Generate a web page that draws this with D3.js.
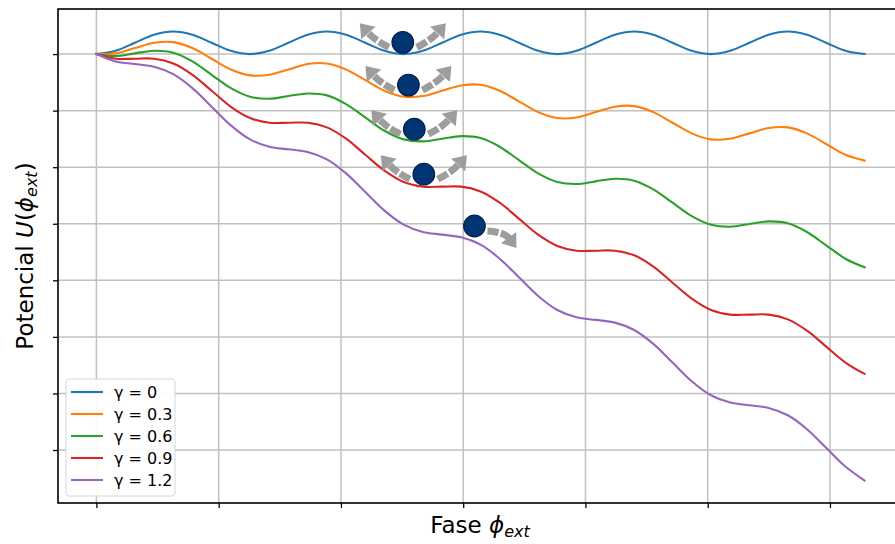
<!DOCTYPE html>
<html><head><meta charset="utf-8">
<script src="https://cdn.jsdelivr.net/npm/d3@7"></script>
<style>
body{margin:0;background:#fff}
svg{display:block}
text{font-family:"DejaVu Sans",sans-serif}
</style>
</head><body>
<svg id="chart" width="895" height="544"></svg>
<script>
// ---- data ----
const phi = [0, 0.785, 1.571, 2.356, 3.142, 3.927, 4.712, 5.498, 6.283, 7.069,
  7.854, 8.639, 9.425, 10.21, 10.996, 11.781, 12.566, 13.352, 14.137, 14.923,
  15.708, 16.493, 17.279, 18.064, 18.85, 19.635, 20.42, 21.206, 21.991, 22.777,
  23.562, 24.347, 25.133, 25.918, 26.704, 27.489, 28.274, 29.06, 29.845, 30.631, 31.416];

const seriesNames = ["γ = 0", "γ = 0.3", "γ = 0.6", "γ = 0.9", "γ = 1.2"];
const seriesColors = ["#1f77b4", "#ff7f0e", "#2ca02c", "#d62728", "#9467bd"];

const uGamma0 = [0, 0.29, 1, 1.71, 2, 1.71, 1, 0.29, 0, 0.29, 1, 1.71, 2, 1.71, 1, 0.29,
  0, 0.29, 1, 1.71, 2, 1.71, 1, 0.29, 0, 0.29, 1, 1.71, 2, 1.71, 1, 0.29,
  0, 0.29, 1, 1.71, 2, 1.71, 1, 0.29, 0];
const uGamma03 = [0, 0.06, 0.53, 1.00, 1.06, 0.53, -0.41, -1.36, -1.88, -1.83, -1.36, -0.88,
  -0.83, -1.36, -2.30, -3.24, -3.77, -3.71, -3.24, -2.77, -2.71, -3.24, -4.18, -5.13,
  -5.65, -5.60, -5.13, -4.65, -4.60, -5.13, -6.07, -7.01, -7.54, -7.48, -7.01, -6.54,
  -6.48, -7.01, -7.95, -8.90, -9.42];
const uGamma06 = [0, -0.18, 0.06, 0.29, 0.12, -0.65, -1.83, -3.01, -3.77, -3.95, -3.71, -3.48,
  -3.65, -4.42, -5.60, -6.78, -7.54, -7.72, -7.48, -7.25, -7.42, -8.19, -9.37, -10.55,
  -11.31, -11.49, -11.25, -11.02, -11.19, -11.96, -13.14, -14.32, -15.08, -15.26, -15.02,
  -14.79, -14.96, -15.73, -16.91, -18.09, -18.85];
const uGamma09 = [0, -0.41, -0.41, -0.41, -0.83, -1.83, -3.24, -4.66, -5.65, -6.07, -6.07, -6.07,
  -6.48, -7.48, -8.90, -10.31, -11.31, -11.72, -11.72, -11.72, -12.14, -13.14, -14.55,
  -15.97, -16.96, -17.38, -17.38, -17.38, -17.79, -18.79, -20.21, -21.62, -22.62, -23.03,
  -23.03, -23.03, -23.45, -24.45, -25.86, -27.27, -28.27];
const uGamma12 = [0, -0.65, -0.88, -1.12, -1.77, -3.01, -4.65, -6.30, -7.54, -8.19, -8.42, -8.66,
  -9.31, -10.55, -12.19, -13.84, -15.08, -15.73, -15.96, -16.20, -16.85, -18.09, -19.73,
  -21.38, -22.62, -23.27, -23.50, -23.74, -24.39, -25.62, -27.27, -28.92, -30.16, -30.81,
  -31.04, -31.28, -31.93, -33.16, -34.81, -36.46, -37.70];

const xTicks = [0, 5, 10, 15, 20, 25, 30];
const yTicks = [0, -5, -10, -15, -20, -25, -30, -35];

const ballX = [12.53, 12.76, 13.00, 13.39, 15.46];
const ballY = [1.04, -2.74, -6.64, -10.62, -15.20];
const ballArrowKinds = [["left", "right"], ["left", "right"], ["left", "right"], ["left", "right"], ["down"]];

// ---- drawing ----
const allSeries = [uGamma0, uGamma03, uGamma06, uGamma09, uGamma12];
const plot = {left: 58, top: 9, right: 903, bottom: 503};

const svg = d3.select("#chart");
const x = d3.scaleLinear().domain([-1.5708, 32.9868]).range([plot.left, plot.right]);
const y = d3.scaleLinear().domain([-39.685, 3.985]).range([plot.bottom, plot.top]);

// grid
const grid = svg.append("g").attr("stroke", "#c0c0c0").attr("stroke-width", 1.5);
grid.selectAll("line.gx").data(xTicks).join("line")
  .attr("x1", d => x(d)).attr("x2", d => x(d)).attr("y1", plot.top).attr("y2", plot.bottom);
grid.selectAll("line.gy").data(yTicks).join("line")
  .attr("y1", d => y(d)).attr("y2", d => y(d)).attr("x1", plot.left).attr("x2", plot.right);

// curves
const line = d3.line().x((d, i) => x(phi[i])).y(d => y(d)).curve(d3.curveCatmullRom.alpha(0.5));
svg.append("g").selectAll("path").data(allSeries).join("path")
  .attr("d", d => line(d)).attr("fill", "none")
  .attr("stroke", (d, i) => seriesColors[i]).attr("stroke-width", 2.1)
  .attr("stroke-linecap", "square");

// arrows (offsets in px from ball centre: tail, control, tip)
const arrowShapes = {
  left:  {t: [-14, 5], c: [-28, -2], p: [-43, -19]},
  right: {t: [14, 5], c: [28, -2], p: [43, -19]},
  down:  {t: [13, 5], c: [30, 6], p: [42, 22]}
};
const arrowColor = "#9d9d9d";
const arrowG = svg.append("g");
ballX.forEach((bx, i) => {
  const cx = x(bx), cy = y(ballY[i]);
  ballArrowKinds[i].forEach(k => {
    const s = arrowShapes[k];
    const T = [cx + s.t[0], cy + s.t[1]], C = [cx + s.c[0], cy + s.c[1]], P = [cx + s.p[0], cy + s.p[1]];
    const dx = P[0] - C[0], dy = P[1] - C[1], len = Math.hypot(dx, dy);
    const ux = dx / len, uy = dy / len;
    const hl = 13, hw = 9.5;
    const B = [P[0] - ux * hl, P[1] - uy * hl];
    const path = d3.path();
    path.moveTo(T[0], T[1]);
    path.quadraticCurveTo(C[0], C[1], B[0] + ux * 1, B[1] + uy * 1);
    arrowG.append("path").attr("d", path.toString()).attr("fill", "none")
      .attr("stroke", arrowColor).attr("stroke-width", 7).attr("stroke-dasharray", "11,2.5");
    arrowG.append("path")
      .attr("d", `M${P[0]},${P[1]}L${B[0] - uy * hw},${B[1] + ux * hw}L${B[0] + uy * hw},${B[1] - ux * hw}Z`)
      .attr("fill", arrowColor);
  });
});

// balls
svg.append("g").selectAll("circle").data(ballX).join("circle")
  .attr("cx", d => x(d)).attr("cy", (d, i) => y(ballY[i])).attr("r", 10.8)
  .attr("fill", "#003473").attr("stroke", "#00214d").attr("stroke-width", 1.2);

// axes ticks
const axB = svg.append("g").attr("transform", `translate(0,${plot.bottom})`)
  .call(d3.axisBottom(x).tickValues(xTicks).tickFormat("").tickSize(5));
const axL = svg.append("g").attr("transform", `translate(${plot.left},0)`)
  .call(d3.axisLeft(y).tickValues(yTicks).tickFormat("").tickSize(5));
[axB, axL].forEach(a => {
  a.select(".domain").remove();
  a.selectAll(".tick line").attr("stroke", "#000").attr("stroke-width", 1.3);
});

// frame
svg.append("rect").attr("x", plot.left).attr("y", plot.top)
  .attr("width", plot.right - plot.left).attr("height", plot.bottom - plot.top)
  .attr("fill", "none").attr("stroke", "#000").attr("stroke-width", 1.6);

// legend
const lg = svg.append("g").attr("transform", "translate(66,379)");
lg.append("rect").attr("width", 109).attr("height", 117).attr("rx", 3)
  .attr("fill", "#fff").attr("fill-opacity", 0.9).attr("stroke", "#d6d6d6").attr("stroke-width", 1);
seriesNames.forEach((n, i) => {
  const yy = 13 + i * 22;
  lg.append("line").attr("x1", 5).attr("x2", 37).attr("y1", yy).attr("y2", yy)
    .attr("stroke", seriesColors[i]).attr("stroke-width", 2.1);
  lg.append("text").attr("x", 48).attr("y", yy).attr("dy", "0.36em")
    .attr("font-size", 16).attr("fill", "#000").text(n);
});

// axis labels
const xl = svg.append("text").attr("x", 480).attr("y", 533)
  .attr("text-anchor", "middle").attr("font-size", 23).attr("fill", "#000");
xl.append("tspan").text("Fase ");
xl.append("tspan").attr("font-style", "italic").text("ϕ");
xl.append("tspan").attr("font-style", "italic").attr("font-size", 16).attr("dy", 4).text("ext");

const yl = svg.append("text").attr("transform", "translate(33,256) rotate(-90)")
  .attr("text-anchor", "middle").attr("font-size", 23).attr("fill", "#000");
yl.append("tspan").text("Potencial ");
yl.append("tspan").attr("font-style", "italic").text("U");
yl.append("tspan").text("(");
yl.append("tspan").attr("font-style", "italic").text("ϕ");
yl.append("tspan").attr("font-style", "italic").attr("font-size", 16).attr("dy", 4).text("ext");
yl.append("tspan").attr("dy", -4).text(")");
</script>
</body></html>
